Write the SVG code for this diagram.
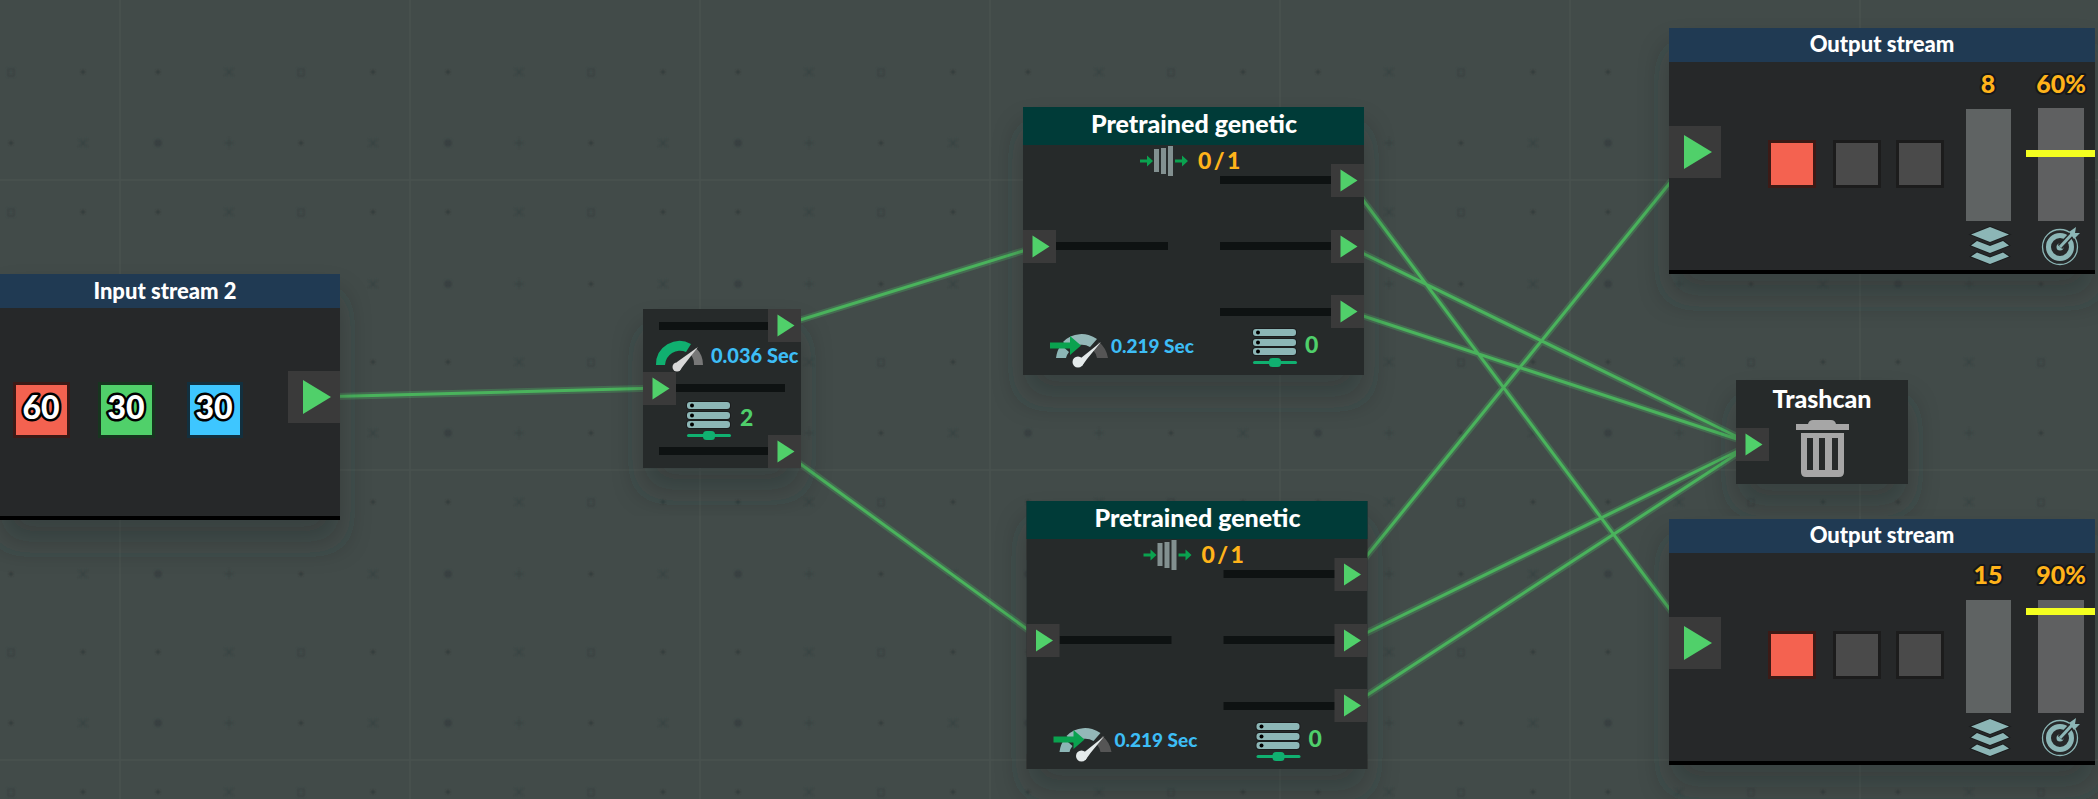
<svg xmlns="http://www.w3.org/2000/svg" xmlns:xlink="http://www.w3.org/1999/xlink" width="2098" height="799" viewBox="0 0 2098 799">
<style>
text{font-family:"Lato","Liberation Sans",sans-serif;font-weight:700}
.panel{fill:#262829}
.panelb{fill:#282b2b}
.port{fill:#3a3a3a}
.tri{fill:#50d06a}
.bar{fill:#0e1212}
.hblue{fill:#203a53}
.hteal{fill:#003b38}
.title{fill:#fff;text-anchor:middle;font-weight:900}
.sec{fill:#3dbdf5;font-size:19px;font-weight:900}
.count{fill:#4fcf6b;font-size:23px;font-weight:900}
.amber{fill:#ffb31a;font-size:23px;font-weight:900;word-spacing:-3px}
.ambero{fill:#ffb31a;font-size:25px;font-weight:900;text-anchor:middle;stroke:#15171a;stroke-width:4px;paint-order:stroke;stroke-linejoin:round}
.num{fill:#fff;font-size:32px;font-weight:900;text-anchor:middle;stroke:#000;stroke-width:5px;paint-order:stroke;stroke-linejoin:round}
.glow{stroke:#50d06a;stroke-width:7;opacity:.25;fill:none}
.core{stroke:#4ab35c;stroke-width:3;fill:none}
.teal{fill:#8cb6b6}
.dk{stroke:#1b1d1e;stroke-width:2;paint-order:stroke}
.mk{stroke:#2f3a3a;stroke-width:1.4;fill:none}
</style>
<defs>
<filter id="blur1" x="-20%" y="-20%" width="140%" height="140%"><feGaussianBlur stdDeviation="0.8"/></filter>
<filter id="sh" x="-20%" y="-20%" width="140%" height="150%"><feDropShadow dx="0" dy="22" stdDeviation="16" flood-color="#2a2f2d" flood-opacity=".4"/></filter>
<pattern id="bgp" patternUnits="userSpaceOnUse" width="290" height="290">
<rect width="290" height="290" fill="#424b49"/>
<path d="M120 0V290M0 180H290" stroke="#4a5351" stroke-width="1.500" opacity=".7"/>
<g id="mks" filter="url(#blur1)" opacity=".6">
<rect x="8" y="69" width="6" height="7" class="mk"/><circle cx="83" cy="72" r="2" fill="#272e2e"/><circle cx="158" cy="72" r="2" fill="#272e2e"/><path d="M225 68l8 8M233 68l-8 8" class="mk"/>
<circle cx="11" cy="143" r="2" fill="#272e2e"/><path d="M79 139l8 8M87 139l-8 8" class="mk"/><circle cx="158" cy="143" r="4" fill="#30393a"/><path d="M229 138v10M224 143h10" class="mk"/>
<rect x="8" y="209" width="6" height="7" class="mk"/><circle cx="83" cy="212" r="2" fill="#272e2e"/><circle cx="158" cy="212" r="2" fill="#272e2e"/><path d="M225 208l8 8M233 208l-8 8" class="mk"/>
<circle cx="11" cy="284" r="2" fill="#272e2e"/><path d="M79 280l8 8M87 280l-8 8" class="mk"/><circle cx="158" cy="284" r="4" fill="#30393a"/><path d="M229 279v10M224 284h10" class="mk"/>
</g>
</pattern>
<g id="p33"><rect width="33" height="33" class="port"/><path d="M9.500 5.500L26.500 16.500L9.500 27.500Z" class="tri"/></g>
<g id="p52"><rect width="52" height="52" class="port"/><path d="M15 9L43 26L15 43Z" class="tri"/></g>
<g id="server">
<rect x="0" y="0" width="43" height="7" rx="3" class="teal dk"/><rect x="0" y="10" width="43" height="7" rx="3" class="teal dk"/><rect x="0" y="19" width="43" height="7" rx="3" class="teal dk"/>
<circle cx="5" cy="3.500" r="2" fill="#000"/><circle cx="5" cy="13.500" r="2" fill="#000"/><circle cx="5" cy="22.500" r="2" fill="#000"/>
<rect x="0" y="32" width="44" height="3" rx="1.500" fill="#10b070"/><rect x="16" y="29" width="12" height="9" rx="3.500" fill="#10b070"/>
</g>
<g id="gaugeP">
<path d="M6 25A26 26 0 0 1 11 12L19 19A14 14 0 0 0 16 25Z" class="teal"/>
<path d="M13 9A26 26 0 0 1 47 6L40 14A16 16 0 0 0 21 16Z" fill="#94b8b8"/>
<path d="M49 9A26 26 0 0 1 58 25H47A16 16 0 0 0 43 17Z" fill="#555"/>
<path d="M51 9L31 25L24 32L32 33L37 26Z" fill="#e4eaea"/><circle cx="28" cy="29" r="5.500" fill="#e4eaea"/>
<path d="M0 9.500H20V3L31 12.500L20 22V15.500H0Z" fill="#0aa24f"/>
</g>
<g id="layers">
<path d="M19 0L38 7.500L19 15L0 7.500Z" class="teal dk"/>
<path d="M6 14L19 19L32 14L38 18.500L19 26L0 18.500Z" class="teal dk"/>
<path d="M6 25.500L19 30.500L32 25.500L38 29.500L19 37L0 29.500Z" class="teal dk"/>
</g>
<g id="target">
<circle cx="18" cy="20" r="17.500" fill="none" stroke="#8cb6b6" stroke-width="1.300"/>
<circle cx="18" cy="20" r="11.500" fill="none" stroke="#8cb6b6" stroke-width="5"/>
<circle cx="18" cy="20" r="3.500" fill="#8cb6b6"/>
<path d="M18 20L31 6" stroke="#262829" stroke-width="6"/>
<path d="M18 20L31 6" stroke="#8cb6b6" stroke-width="3"/>
<path d="M27 5L34 0L33 6L38 6L32 12Z" fill="#8cb6b6"/>
</g>
</defs>
<rect id="background" width="2098" height="799" fill="url(#bgp)"/>

<g id="connectors" stroke-linecap="butt">
<g class="glow">
<path d="M314 397L660 388M784 325L1039 246M784 452L1042 640M1348 180L1695 643M1348 246L1752 444M1348 311L1752 444M1352 574L1695 152M1352 640L1752 444M1352 705L1752 444"/>
</g>
<g class="core">
<path d="M314 397L660 388M784 325L1039 246M784 452L1042 640M1348 180L1695 643M1348 246L1752 444M1348 311L1752 444M1352 574L1695 152M1352 640L1752 444M1352 705L1752 444"/>
</g>
</g>

<g id="input-stream">
<rect x="0" y="274" width="340" height="246" fill="#000" filter="url(#sh)"/>
<rect x="0" y="274" width="340" height="242" class="panel"/>
<rect x="0" y="274" width="340" height="34" class="hblue"/>
<text x="165" y="299" class="title" font-size="22">Input stream 2</text>
<use xlink:href="#p52" href="#p52" x="288" y="371"/>
<rect x="14.500" y="383.500" width="54" height="53" fill="#f46250" stroke="#3c1a16" stroke-width="3"/>
<rect x="99.500" y="383.500" width="54" height="53" fill="#50d06a" stroke="#17351f" stroke-width="3"/>
<rect x="188.500" y="383.500" width="53" height="53" fill="#3ec6ff" stroke="#12303f" stroke-width="3"/>
<text x="41" y="419" class="num">60</text>
<text x="126" y="419" class="num">30</text>
<text x="214" y="419" class="num">30</text>
</g>

<g id="splitter">
<rect x="643" y="309" width="158" height="159" class="panelb" filter="url(#sh)"/>
<rect x="659" y="322" width="110" height="8" class="bar"/>
<rect x="675" y="384" width="110" height="8" class="bar"/>
<rect x="659" y="447" width="110" height="8" class="bar"/>
<use xlink:href="#p33" href="#p33" x="768" y="309"/>
<use xlink:href="#p33" href="#p33" x="643" y="372"/>
<use xlink:href="#p33" href="#p33" x="768" y="435"/>
<path d="M656 365A23.500 23.500 0 0 1 691 344L686 352A15 15 0 0 0 665 365Z" fill="#10b070"/>
<path d="M696 348A23.500 23.500 0 0 1 703 365H694A15 15 0 0 0 691 355Z" fill="#777"/>
<path d="M698 347L677 362L674 368L680 370Z" fill="#d8d8d8"/><circle cx="677" cy="367" r="4.500" fill="#d8d8d8"/>
<text x="711" y="363" class="sec" style="font-size:20px">0.036 Sec</text>
<use xlink:href="#server" href="#server" x="687" y="402"/>
<text x="740" y="426" class="count">2</text>
</g>

<g id="pretrained-1">
<rect x="1023" y="107" width="341" height="268" class="panelb" filter="url(#sh)"/>
<rect x="1023" y="107" width="341" height="38" class="hteal"/>
<text x="1194" y="133" class="title" font-size="25">Pretrained genetic</text>
<path d="M1140 159.500h7v-4l6 5.500l-6 5.500v-4h-7Z" fill="#0aa24f"/>
<rect x="1154" y="149" width="5" height="23" fill="#829090"/><rect x="1161" y="148" width="5" height="26" fill="#829090"/><rect x="1168" y="146" width="5" height="30" fill="#829090"/>
<path d="M1175 159.500h7v-4l6 5.500l-6 5.500v-4h-7Z" fill="#0aa24f"/>
<text x="1198" y="169" class="amber">0 / 1</text>
<rect x="1220" y="176" width="112" height="8" class="bar"/>
<rect x="1220" y="242" width="112" height="8" class="bar"/>
<rect x="1220" y="308" width="112" height="8" class="bar"/>
<rect x="1056" y="242" width="112" height="8" class="bar"/>
<use xlink:href="#p33" href="#p33" x="1331" y="164"/>
<use xlink:href="#p33" href="#p33" x="1331" y="230"/>
<use xlink:href="#p33" href="#p33" x="1331" y="295"/>
<use xlink:href="#p33" href="#p33" x="1023" y="230"/>
<use xlink:href="#gaugeP" href="#gaugeP" x="1050" y="333"/>
<text x="1111" y="353" class="sec">0.219 Sec</text>
<use xlink:href="#server" href="#server" x="1253" y="329"/>
<text x="1305" y="353" class="count">0</text>
</g>

<g id="pretrained-2" transform="translate(3.500 394)">
<rect x="1023" y="107" width="341" height="268" class="panelb" filter="url(#sh)"/>
<rect x="1023" y="107" width="341" height="38" class="hteal"/>
<text x="1194" y="133" class="title" font-size="25">Pretrained genetic</text>
<path d="M1140 159.500h7v-4l6 5.500l-6 5.500v-4h-7Z" fill="#0aa24f"/>
<rect x="1154" y="149" width="5" height="23" fill="#829090"/><rect x="1161" y="148" width="5" height="26" fill="#829090"/><rect x="1168" y="146" width="5" height="30" fill="#829090"/>
<path d="M1175 159.500h7v-4l6 5.500l-6 5.500v-4h-7Z" fill="#0aa24f"/>
<text x="1198" y="169" class="amber">0 / 1</text>
<rect x="1220" y="176" width="112" height="8" class="bar"/>
<rect x="1220" y="242" width="112" height="8" class="bar"/>
<rect x="1220" y="308" width="112" height="8" class="bar"/>
<rect x="1056" y="242" width="112" height="8" class="bar"/>
<use xlink:href="#p33" href="#p33" x="1331" y="164"/>
<use xlink:href="#p33" href="#p33" x="1331" y="230"/>
<use xlink:href="#p33" href="#p33" x="1331" y="295"/>
<use xlink:href="#p33" href="#p33" x="1023" y="230"/>
<use xlink:href="#gaugeP" href="#gaugeP" x="1050" y="333"/>
<text x="1111" y="353" class="sec">0.219 Sec</text>
<use xlink:href="#server" href="#server" x="1253" y="329"/>
<text x="1305" y="353" class="count">0</text>
</g>

<g id="trashcan">
<rect x="1736" y="380" width="172" height="104" class="panelb" filter="url(#sh)"/>
<text x="1822" y="408" class="title" font-size="25">Trashcan</text>
<use xlink:href="#p33" href="#p33" x="1736" y="428"/>
<path d="M1808 424q1-4 5-4h18q4 0 5 4h13v6h-53v-6Z" fill="#a6a6a6"/>
<path d="M1801 433h43v39q0 5-5 5h-33q-5 0-5-5Z" fill="#a6a6a6"/>
<rect x="1807" y="438" width="6" height="32" fill="#272a2a"/><rect x="1819" y="438" width="6" height="32" fill="#272a2a"/><rect x="1832" y="438" width="6" height="32" fill="#272a2a"/>
</g>

<g id="output-stream-1">
<rect x="1669" y="28" width="426" height="246" fill="#000" filter="url(#sh)"/>
<rect x="1669" y="28" width="426" height="242" class="panel"/>
<rect x="1669" y="28" width="426" height="34" class="hblue"/>
<text x="1882" y="52" class="title" font-size="22">Output stream</text>
<use xlink:href="#p52" href="#p52" x="1669" y="126"/>
<rect x="1769.500" y="141.500" width="45" height="45" fill="#f46250" stroke="#3c1a16" stroke-width="3"/>
<rect x="1834.500" y="141.500" width="45" height="45" fill="#4a4a4a" stroke="#1c1c1c" stroke-width="3"/>
<rect x="1897.500" y="141.500" width="45" height="45" fill="#4a4a4a" stroke="#1c1c1c" stroke-width="3"/>
<rect x="1966" y="109" width="45" height="112" fill="#5f6363"/>
<rect x="2038" y="108" width="46" height="113" fill="#5f6061"/>
<rect x="2026" y="150" width="69" height="7" fill="#f4ff20"/>
<text x="1988" y="93" class="ambero">8</text>
<text x="2061" y="93" class="ambero">60%</text>
<use xlink:href="#layers" href="#layers" x="1971" y="227"/>
<use xlink:href="#target" href="#target" x="2042" y="227"/>
</g>

<g id="output-stream-2">
<rect x="1669" y="519" width="426" height="246" fill="#000" filter="url(#sh)"/>
<rect x="1669" y="519" width="426" height="242" class="panel"/>
<rect x="1669" y="519" width="426" height="34" class="hblue"/>
<text x="1882" y="543" class="title" font-size="22">Output stream</text>
<use xlink:href="#p52" href="#p52" x="1669" y="617"/>
<rect x="1769.500" y="632.500" width="45" height="45" fill="#f46250" stroke="#3c1a16" stroke-width="3"/>
<rect x="1834.500" y="632.500" width="45" height="45" fill="#4a4a4a" stroke="#1c1c1c" stroke-width="3"/>
<rect x="1897.500" y="632.500" width="45" height="45" fill="#4a4a4a" stroke="#1c1c1c" stroke-width="3"/>
<rect x="1966" y="600" width="45" height="113" fill="#5f6363"/>
<rect x="2038" y="600" width="46" height="113" fill="#5f6061"/>
<rect x="2026" y="608" width="69" height="7" fill="#f4ff20"/>
<text x="1988" y="584" class="ambero">15</text>
<text x="2061" y="584" class="ambero">90%</text>
<use xlink:href="#layers" href="#layers" x="1971" y="719"/>
<use xlink:href="#target" href="#target" x="2042" y="718"/>
</g>
</svg>
